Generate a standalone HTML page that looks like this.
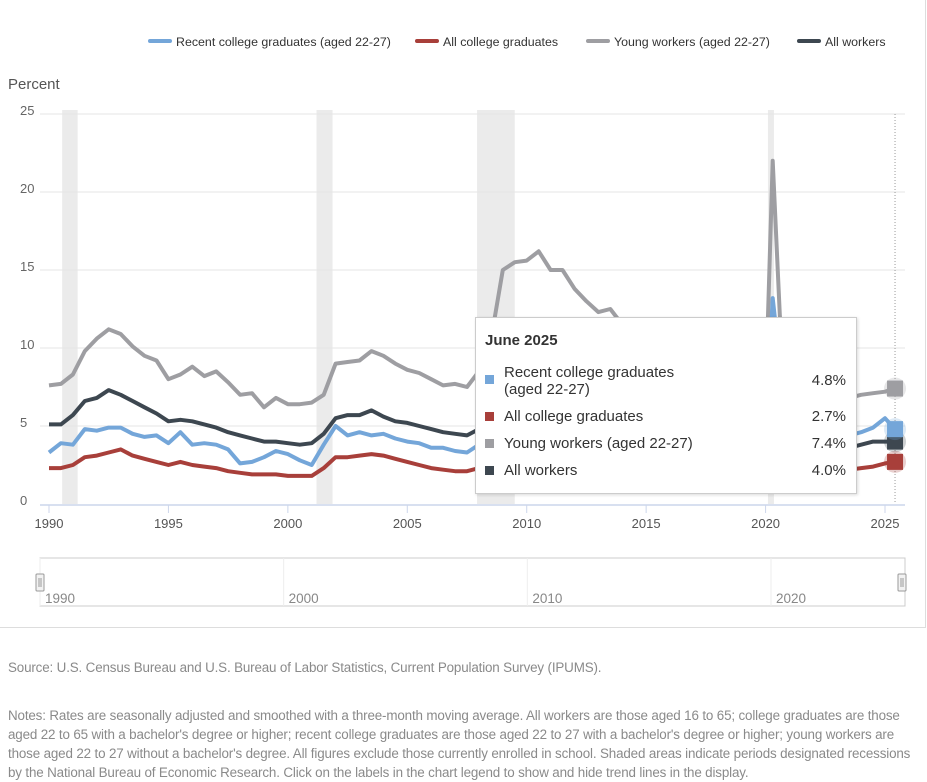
<!DOCTYPE html>
<html><head><meta charset="utf-8"><style>
body{margin:0;width:927px;height:779px;background:#fff;font-family:"Liberation Sans",sans-serif;overflow:hidden;position:relative}
.frame{position:absolute;left:0;top:0;width:925px;height:627px;border-right:1px solid #ddd;border-bottom:1px solid #ddd}
.note{position:absolute;left:8px;color:#8a8a8a;font-size:13.4px;line-height:19px;letter-spacing:-0.15px}
.tip{position:absolute;left:475px;top:317px;width:380px;height:175px;background:#fff;border:1px solid #ccc;box-shadow:1px 1px 3px rgba(0,0,0,.15);font-size:15px;color:#333}
.tip .row{position:absolute;left:9px;right:10px}
.tip .sw{position:absolute;left:0;width:9px;height:9px}
.tip .lb{position:absolute;left:19px}
.tip .v{position:absolute;right:0}
</style></head><body>
<div class="frame"></div>
<svg id="chart" width="927" height="630" style="position:absolute;left:0;top:0"></svg>
<div class="tip">
 <div style="position:absolute;left:9px;top:14px;font-weight:bold;font-size:15px">June 2025</div>
 <div class="row" style="top:46px"><span class="sw" style="top:11px;background:#74a6d9"></span><span class="lb" style="line-height:17px">Recent college graduates<br>(aged 22-27)</span><span class="v" style="top:8px">4.8%</span></div>
 <div class="row" style="top:90px"><span class="sw" style="top:4px;background:#a83f3a"></span><span class="lb">All college graduates</span><span class="v">2.7%</span></div>
 <div class="row" style="top:117px"><span class="sw" style="top:4px;background:#9e9ea2"></span><span class="lb">Young workers (aged 22-27)</span><span class="v">7.4%</span></div>
 <div class="row" style="top:144px"><span class="sw" style="top:4px;background:#3d4750"></span><span class="lb">All workers</span><span class="v">4.0%</span></div>
</div>
<div class="note" style="top:658px">Source: U.S. Census Bureau and U.S. Bureau of Labor Statistics, Current Population Survey (IPUMS).</div>
<div class="note" style="top:706px;width:915px">Notes: Rates are seasonally adjusted and smoothed with a three-month moving average. All workers are those aged 16 to 65; college graduates are those aged 22 to 65 with a bachelor's degree or higher; recent college graduates are those aged 22 to 27 with a bachelor's degree or higher; young workers are those aged 22 to 27 without a bachelor's degree. All figures exclude those currently enrolled in school. Shaded areas indicate periods designated recessions by the National Bureau of Economic Research. Click on the labels in the chart legend to show and hide trend lines in the display.</div>
<script>
const dates=[1990,1990.5,1991,1991.5,1992,1992.5,1993,1993.5,1994,1994.5,1995,1995.5,1996,1996.5,1997,1997.5,1998,1998.5,1999,1999.5,2000,2000.5,2001,2001.5,2002,2002.5,2003,2003.5,2004,2004.5,2005,2005.5,2006,2006.5,2007,2007.5,2008,2008.5,2009,2009.5,2010,2010.5,2011,2011.5,2012,2012.5,2013,2013.5,2014,2014.5,2015,2015.5,2016,2016.5,2017,2017.5,2018,2018.5,2019,2019.5,2020,2020.3,2020.6,2021,2021.5,2022,2022.5,2023,2023.5,2024,2024.5,2025,2025.42];
const youngWorkers=[7.6,7.7,8.3,9.8,10.6,11.2,10.9,10.1,9.5,9.2,8.0,8.3,8.8,8.2,8.5,7.8,7.0,7.1,6.2,6.8,6.4,6.4,6.5,7.0,9.0,9.1,9.2,9.8,9.5,9.0,8.6,8.4,8.0,7.6,7.7,7.5,8.5,10.5,15.0,15.5,15.6,16.2,15.0,15.0,13.8,13.0,12.3,12.5,11.5,11.0,10.0,9.5,9.0,8.5,8.0,7.8,7.5,7.3,7.0,7.0,7.0,22.0,12.0,9.5,8.0,7.0,6.8,6.6,6.8,7.0,7.1,7.2,7.4];
const allWorkers=[5.1,5.1,5.7,6.6,6.8,7.3,7.0,6.6,6.2,5.8,5.3,5.4,5.3,5.1,4.9,4.6,4.4,4.2,4.0,4.0,3.9,3.8,3.9,4.5,5.5,5.7,5.7,6.0,5.6,5.3,5.2,5.0,4.8,4.6,4.5,4.4,4.8,5.5,8.0,9.2,9.5,9.4,9.0,8.8,8.2,7.9,7.6,7.2,6.6,6.1,5.6,5.2,4.9,4.8,4.5,4.2,4.0,3.8,3.7,3.6,3.5,12.8,9.0,6.2,5.2,3.9,3.6,3.5,3.6,3.8,4.0,4.0,4.0];
const recentGrads=[3.3,3.9,3.8,4.8,4.7,4.9,4.9,4.5,4.3,4.4,3.9,4.6,3.8,3.9,3.8,3.5,2.6,2.7,3.0,3.4,3.2,2.8,2.5,3.8,5.0,4.4,4.6,4.4,4.5,4.2,4.0,3.9,3.6,3.6,3.4,3.3,3.8,4.2,5.5,6.2,6.0,6.3,5.8,5.9,5.5,5.6,5.2,5.0,4.8,4.5,4.3,4.0,4.0,4.2,3.9,3.8,3.8,3.9,3.8,3.7,3.9,13.2,9.0,6.5,5.0,4.0,4.2,4.3,4.4,4.6,4.9,5.5,4.8];
const allGrads=[2.3,2.3,2.5,3.0,3.1,3.3,3.5,3.1,2.9,2.7,2.5,2.7,2.5,2.4,2.3,2.1,2.0,1.9,1.9,1.9,1.8,1.8,1.8,2.3,3.0,3.0,3.1,3.2,3.1,2.9,2.7,2.5,2.3,2.2,2.1,2.1,2.3,2.7,4.0,4.6,4.8,4.7,4.5,4.4,4.2,4.0,3.8,3.5,3.3,3.0,2.7,2.6,2.5,2.5,2.4,2.2,2.1,2.1,2.0,2.0,2.0,8.0,5.5,3.8,3.0,2.2,2.1,2.1,2.2,2.3,2.4,2.6,2.7];
const yTicks=[0,5,10,15,20,25];
const xTicks=[1990,1995,2000,2005,2010,2015,2020,2025];
const recessions=[[1990.55,1991.2],[2001.2,2001.87],[2007.92,2009.5],[2020.1,2020.35]];
const legendNames=["Recent college graduates (aged 22-27)","All college graduates","Young workers (aged 22-27)","All workers"];

const NS="http://www.w3.org/2000/svg";
const svg=document.getElementById('chart');
const X=v=>49+(v-1990)*(836/35);
const Y=v=>504-v*15.6;
function mk(t,a,p){const e=document.createElementNS(NS,t);for(const k in a)e.setAttribute(k,a[k]);(p||svg).appendChild(e);return e;}
recessions.forEach(r=>{const e=mk('rect',{x:X(r[0]),y:Y(25)-4,width:X(r[1])-X(r[0]),height:Y(0)-Y(25)+4,fill:'#ebebeb'});

});
yTicks.forEach(t=>{if(t>0){const g=mk('line',{x1:40,x2:905,y1:Y(t),y2:Y(t),stroke:'#e6e6e6'});

}
const l=mk('text',{x:20,y:Y(t)+1,'font-size':13,fill:'#666','font-family':'Liberation Sans'});l.textContent=t;

});
const ax=mk('line',{x1:40,x2:905,y1:Y(0)+1,y2:Y(0)+1,stroke:'#ccd6eb','stroke-width':1.5});


xTicks.forEach(t=>{mk('line',{x1:X(t),x2:X(t),y1:Y(0)+1,y2:Y(0)+9,stroke:'#ccd6eb'});
const l=mk('text',{x:X(t),y:Y(0)+24,'font-size':13,fill:'#555','text-anchor':'middle','font-family':'Liberation Sans'});l.textContent=t;

});
const yt=mk('text',{x:8,y:89,'font-size':15,fill:'#555','font-family':'Liberation Sans'});yt.textContent='Percent';


mk('line',{x1:X(2025.42),x2:X(2025.42),y1:Y(25),y2:Y(0),stroke:'#999','stroke-dasharray':'1,2'});
const series=[[youngWorkers,'#9e9ea2','young-workers-line'],[allWorkers,'#3d4750','all-workers-line'],[recentGrads,'#74a6d9','recent-grads-line'],[allGrads,'#a83f3a','all-grads-line']];
series.forEach(s=>{const d=s[0].map((v,i)=>(i?'L':'M')+X(dates[i]).toFixed(1)+','+Y(v).toFixed(1)).join('');
const p=mk('path',{d:d,fill:'none',stroke:s[1],'stroke-width':4,'stroke-linejoin':'round'});


const lv=s[0][s[0].length-1];
mk('circle',{cx:X(2025.42),cy:Y(lv),r:11,fill:s[1],opacity:0.25});
const m=mk('rect',{x:X(2025.42)-8,y:Y(lv)-8,width:16,height:16,fill:s[1]});

});
const lc=['#74a6d9','#a83f3a','#9e9ea2','#3d4750'];const lx=[150,417,588,799];
legendNames.forEach((n,i)=>{const g=mk('g',{style:'cursor:pointer'});


mk('line',{x1:lx[i],x2:lx[i]+20,y1:41,y2:41,stroke:lc[i],'stroke-width':4,'stroke-linecap':'round'},g);
const t=mk('text',{x:lx[i]+26,y:46,'font-size':12.4,fill:'#333','font-family':'Liberation Sans'},g);t.textContent=n;});
const nav=mk('g',{});


mk('rect',{x:40,y:558,width:865,height:48,fill:'none',stroke:'#ccc'},nav);
[1990,2000,2010,2020].forEach(t=>{const nx=40+(t-1990)*(865/35.5);
mk('line',{x1:nx,x2:nx,y1:558,y2:606,stroke:'#eee'},nav);
const l=mk('text',{x:nx+5,y:603,'font-size':13.5,fill:'#888','font-family':'Liberation Sans'},nav);l.textContent=t;});
[40,902].forEach(hx=>{const h=mk('rect',{x:hx-4,y:574,width:8,height:17,fill:'#f2f2f2',stroke:'#999',rx:1});


mk('line',{x1:hx-1,x2:hx-1,y1:578,y2:587,stroke:'#999'});mk('line',{x1:hx+1,x2:hx+1,y1:578,y2:587,stroke:'#999'});});
</script>
</body></html>
